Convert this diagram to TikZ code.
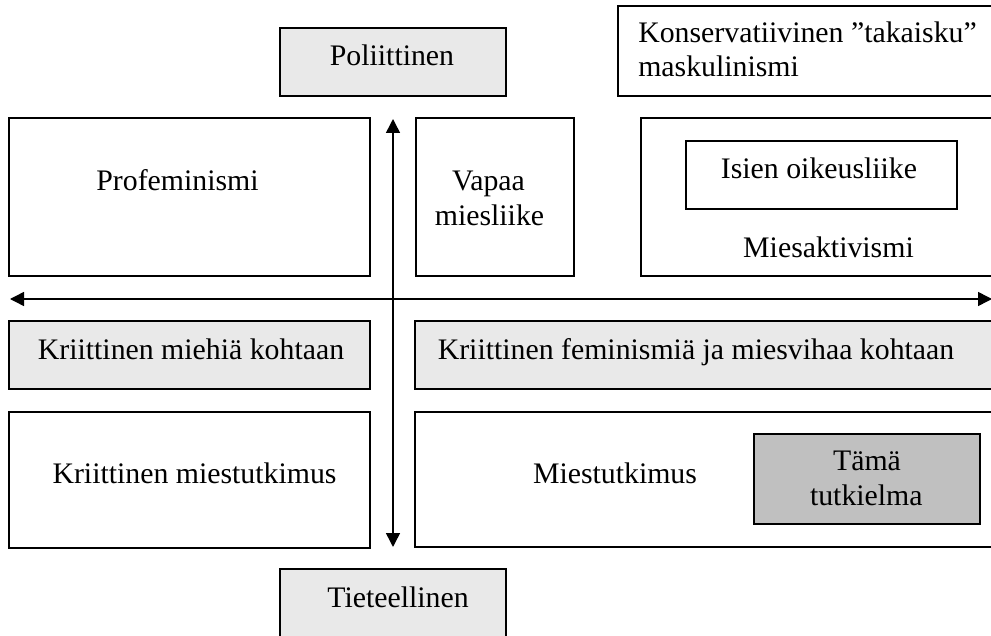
\documentclass[tikz,border=0pt]{standalone}
\usepackage{fontspec}
\setmainfont{Liberation Serif}
\usetikzlibrary{arrows.meta,fit}
\definecolor{lightfill}{HTML}{E9E9E9}
\definecolor{darkfill}{HTML}{C0C0C0}
\begin{document}
\begin{tikzpicture}[x=1pt,y=-1pt,
  box/.style={draw=black,line width=1.2pt,inner sep=0pt,rectangle},
  graybox/.style={box,fill=lightfill},
  darkbox/.style={box,fill=darkfill},
  txt/.style={inner sep=0pt,outer sep=0pt,font=\fontsize{29.8pt}{35pt}\selectfont},
  axis/.style={line width=1.5pt,{Triangle[width=14pt,length=14pt]}-{Triangle[width=14pt,length=14pt]}}
]
\useasboundingbox (0,0) rectangle (991,636);
% boxes
\node[graybox,fit={(280,28) (506,96)}] (polbox) {};
\node[box,fit={(618,6) (994,96)}] (konsbox) {};
\node[box,fit={(9,118) (370,276)}] (profbox) {};
\node[box,fit={(416,118) (574,276)}] (vapbox) {};
\node[box,fit={(641,118) (994,276)}] (aktbox) {};
\node[box,fit={(686,141) (957,209)}] (isibox) {};
\node[graybox,fit={(9,321) (370,389)}] (kmkbox) {};
\node[graybox,fit={(415,321) (994,389)}] (kfmbox) {};
\node[box,fit={(9,412) (370,548)}] (kmtbox) {};
\node[box,fit={(415,412) (994,547)}] (mtbox) {};
\node[darkbox,fit={(754,434) (980,524)}] (tamabox) {};
\node[graybox,fit={(280,569) (506,645)}] (tiebox) {};
% texts
\node[txt,anchor=base] (poltxt) at (392,66) {Poliittinen};
\node[txt,anchor=base west] (kons1) at (638.3,42.3) {Konservatiivinen ”takaisku”};
\node[txt,anchor=base west] (kons2) at (638.3,76.7) {maskulinismi};
\node[txt,anchor=base] (proftxt) at (177.5,191) {Profeminismi};
\node[txt,anchor=base] (vap1) at (488.5,191) {Vapaa};
\node[txt,anchor=base] (vap2) at (489.5,226) {miesliike};
\node[txt,anchor=base] (isitxt) at (819,179) {Isien oikeusliike};
\node[txt,anchor=base] (akttxt) at (828.5,258) {Miesaktivismi};
\node[txt,anchor=base] (kmktxt) at (191,359.3) {Kriittinen miehiä kohtaan};
\node[txt,anchor=base] (kfmtxt) at (696,359.3) {Kriittinen feminismiä ja miesvihaa kohtaan};
\node[txt,anchor=base] (kmttxt) at (194.5,483) {Kriittinen miestutkimus};
\node[txt,anchor=base] (mttxt) at (615,483) {Miestutkimus};
\node[txt,anchor=base] (tama1) at (867,470.7) {Tämä};
\node[txt,anchor=base] (tama2) at (866.3,505.7) {tutkielma};
\node[txt,anchor=base] (tietxt) at (398,607.3) {Tieteellinen};
% axes
\coordinate (vtop) at (393,119);
\coordinate (vbot) at (393,547);
\coordinate (hleft) at (10,299);
\coordinate (hright) at (992,299);
\draw[axis] (vbot) -- (vtop);
\draw[axis] (hleft) -- (hright);
\end{tikzpicture}
\end{document}
